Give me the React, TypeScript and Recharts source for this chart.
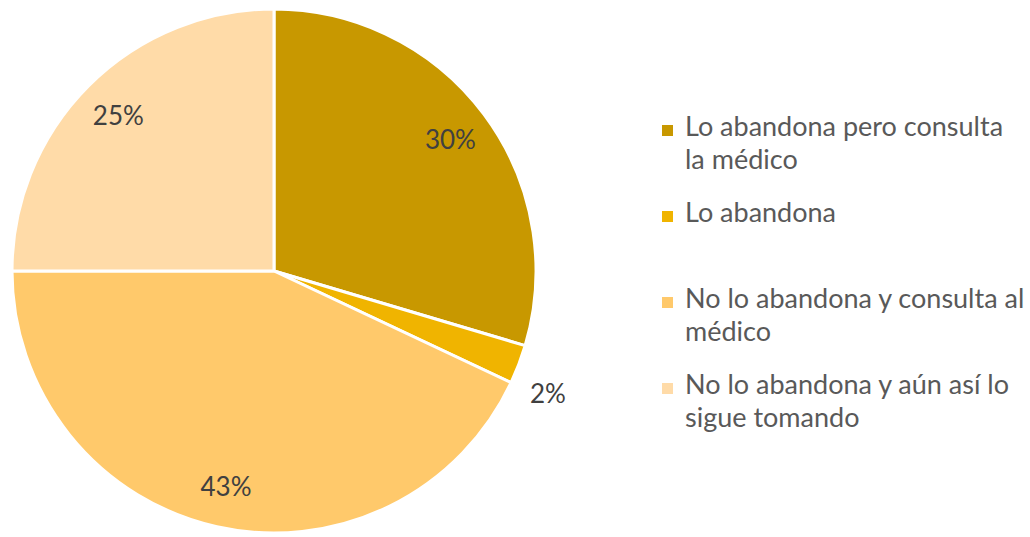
import { PieChart, Pie, Cell, Legend } from 'recharts';

const CATEGORIES = [
  'Lo abandona pero consulta\nla médico',
  'Lo abandona',
  'No lo abandona y consulta al\nmédico',
  'No lo abandona y aún así lo\nsigue tomando',
];
const VALUES = [29.6, 2.4, 43, 25];
const COLORS = ['#C89800', '#F0B400', '#FFC96B', '#FFDBA8'];

const data = CATEGORIES.map((name, i) => ({ name, value: VALUES[i] }));

const RAD = Math.PI / 180;
const FONT = "Lato, 'Open Sans', sans-serif";

function renderLabel(props: any) {
  const { cx, cy, midAngle, outerRadius, percent } = props;
  const outside = percent < 0.05;
  const r = outside ? outerRadius + 12 : outerRadius * 0.84;
  const x = cx + r * Math.cos(-midAngle * RAD);
  const y = cy + r * Math.sin(-midAngle * RAD) + (outside ? 24 : 0);
  return (
    <text
      x={x}
      y={y}
      fill="#404040"
      fontSize={26}
      fontFamily={FONT}
      textAnchor={outside ? 'start' : 'middle'}
      dominantBaseline="central"
    >
      {Math.round(percent * 100)}%
    </text>
  );
}

function renderLegend() {
  return (
    <div style={{ fontFamily: FONT, fontSize: 27, color: '#595959' }}>
      {data.map((d, i) => (
        <div key={i} style={{ height: 86, display: 'flex', alignItems: 'flex-start' }}>
          <div
            style={{
              width: 11,
              height: 11,
              marginTop: 11,
              marginRight: 12,
              flexShrink: 0,
              backgroundColor: COLORS[i],
            }}
          />
          <div style={{ lineHeight: '33px', marginTop: -5, whiteSpace: 'pre-line' }}>{d.name}</div>
        </div>
      ))}
    </div>
  );
}

export default function App() {
  return (
    <div style={{ position: 'absolute', left: 0, top: 0, background: '#fff' }}>
      <PieChart width={1030} height={537} margin={{ top: 0, right: 0, bottom: 0, left: 0 }}>
        <Pie
          data={data}
          dataKey="value"
          cx={274}
          cy={271}
          outerRadius={262}
          startAngle={90}
          endAngle={-270}
          stroke="#fff"
          strokeWidth={3}
          label={renderLabel}
          labelLine={false}
          isAnimationActive={false}
        >
          {data.map((_, i) => (
            <Cell key={i} fill={COLORS[i]} />
          ))}
        </Pie>
        <Legend
          content={renderLegend}
          wrapperStyle={{ left: 662, top: 114, width: 368 }}
        />
      </PieChart>
    </div>
  );
}
